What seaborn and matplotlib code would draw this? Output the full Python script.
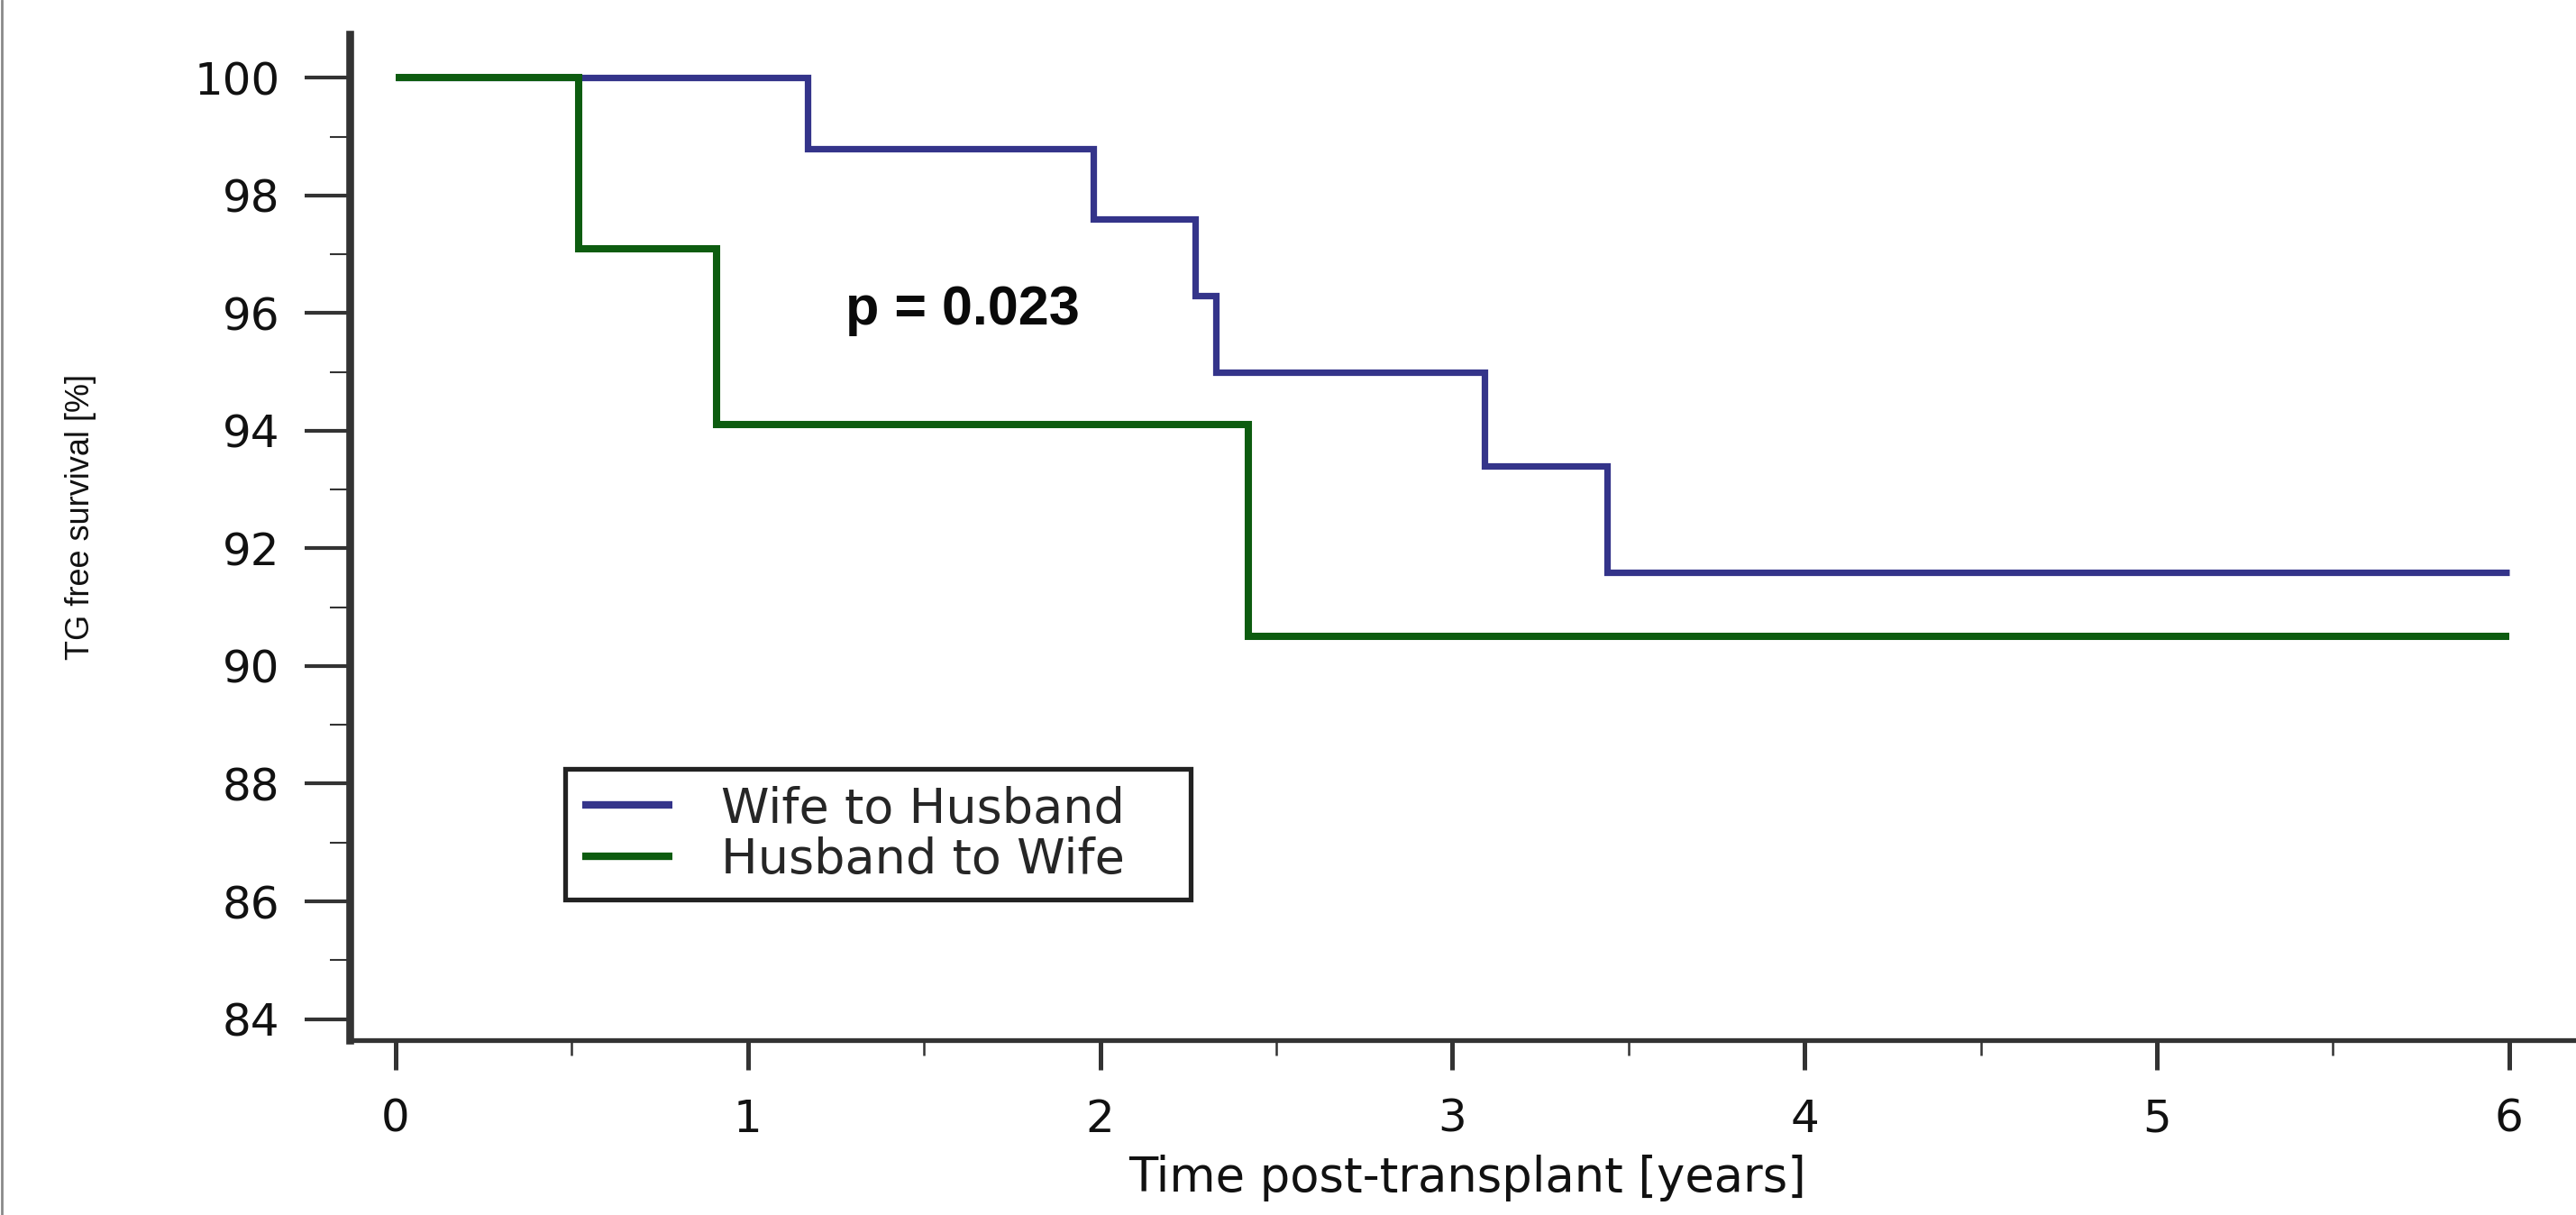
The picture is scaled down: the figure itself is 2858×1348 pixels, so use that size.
import pandas as pd
import seaborn as sns
import matplotlib.pyplot as plt
from matplotlib.lines import Line2D
from matplotlib.ticker import MultipleLocator

# Kaplan-Meier steps (years post-transplant, % TG free)
wh_years = [0, 1.17, 1.98, 2.27, 2.33, 3.09, 3.44, 6.0]
wh_surv = [100, 98.8, 97.6, 96.3, 95.0, 93.4, 91.6, 91.6]
hw_years = [0, 0.52, 0.91, 2.42, 6.0]
hw_surv = [100, 97.1, 94.1, 90.5, 90.5]
groups = ["Wife to Husband", "Husband to Wife"]
colors = ["#34348a", "#0d5c10"]
x_ticks = [0, 1, 2, 3, 4, 5, 6]
y_ticks = [84, 86, 88, 90, 92, 94, 96, 98, 100]
p_text = "p = 0.023"

df = pd.concat([
    pd.DataFrame({"years": wh_years, "surv": wh_surv, "group": groups[0]}),
    pd.DataFrame({"years": hw_years, "surv": hw_surv, "group": groups[1]}),
], ignore_index=True)

sns.set_style("white")
plt.rcParams["font.family"] = ["DejaVu Sans"]
narrow = ["Liberation Sans", "DejaVu Sans"]
dark = "#333333"

fig = plt.figure(figsize=(28.58, 13.48), dpi=100)
ax = fig.add_axes([0.1358, 0.1439, 0.8642, 0.8279])

sns.lineplot(data=df, x="years", y="surv", hue="group", hue_order=groups,
             palette=dict(zip(groups, colors)), drawstyle="steps-post",
             estimator=None, sort=False, legend=False, ax=ax,
             linewidth=5.2, solid_capstyle="butt", solid_joinstyle="miter")
ax.lines[1].set_linewidth(5.8)

ax.set_xlim(-0.13, 6.19)
ax.set_ylim(83.64, 100.74)
ax.set_xticks(x_ticks)
ax.set_yticks(y_ticks)
ax.xaxis.set_minor_locator(MultipleLocator(0.5))
ax.yaxis.set_minor_locator(MultipleLocator(1))

sns.despine(ax=ax)
ax.spines["left"].set_linewidth(6.2)
ax.spines["bottom"].set_linewidth(3.8)
ax.spines["left"].set_color(dark)
ax.spines["bottom"].set_color(dark)

ax.tick_params(axis="y", which="major", left=True, length=36, width=3.0,
               pad=20, labelsize=36, color=dark, labelcolor="#111111")
ax.tick_params(axis="y", which="minor", left=True, length=16, width=1.5, color=dark)
ax.tick_params(axis="x", which="major", bottom=True, length=24, width=3.6,
               pad=22, labelsize=36, color=dark, labelcolor="#111111")
ax.tick_params(axis="x", which="minor", bottom=True, length=12, width=1.8, color=dark)

ax.set_xlabel("Time post-transplant [years]", fontsize=38, color="#111111")
ax.xaxis.label.set_va("center")
ax.xaxis.set_label_coords(0.502, -0.137)
ax.set_ylabel("TG free survival [%]", fontsize=26, family=narrow, color="#111111")
ax.yaxis.label.set_va("center")
ax.yaxis.set_label_coords(-0.121, 0.52)

ax.text(1.277, 95.8, p_text, fontsize=44, fontweight="bold", family=narrow,
        ha="left", va="baseline", color="#0a0a0a")

leg = ax.legend(ax.lines[:2], groups, loc="upper left",
                bbox_to_anchor=(0.0968, 0.1443, 0.2809, 0.1254), mode="expand",
                frameon=True, fancybox=False, edgecolor="#222222", framealpha=1,
                fontsize=39, handlelength=1.85, handletextpad=1.0,
                borderpad=0.34, labelspacing=0.08, borderaxespad=0)
leg.get_frame().set_linewidth(3.8)
for h in leg.legend_handles:
    h.set_linewidth(6)

# thin grey frame line on the left edge of the original image
fig.add_artist(Line2D([0.0007, 0.0007], [0, 1], transform=fig.transFigure,
                      color="#8a8a8a", linewidth=2))

fig.savefig("out.png", dpi=100)
